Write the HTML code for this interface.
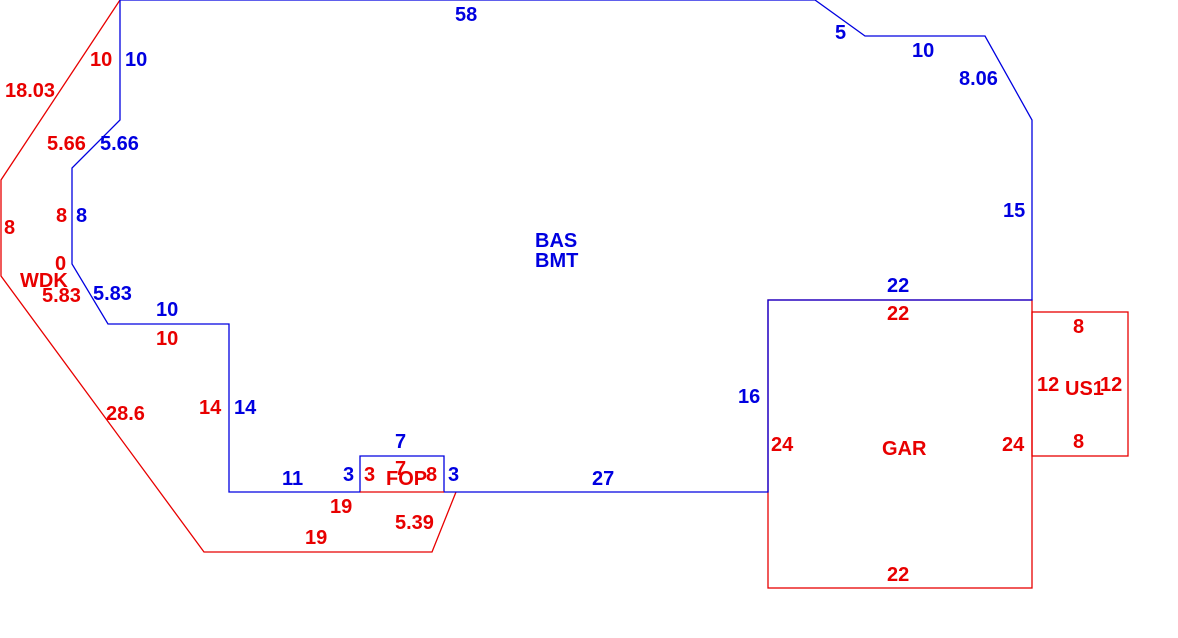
<!DOCTYPE html>
<html><head><meta charset="utf-8"><style>
html,body{margin:0;padding:0;background:#fff;width:1178px;height:638px;overflow:hidden}
text{font-family:"Liberation Sans",Arial,sans-serif;font-weight:bold;font-size:20px}
.b{fill:#0000e0}.r{fill:#e80000}
</style></head><body>
<svg width="1178" height="638" viewBox="0 0 1178 638">
<g fill="none" stroke-width="1.3">
<polyline stroke="#e80000" points="120,0 1,180 1,276 204,552 432,552 456,492"/>
<rect stroke="#e80000" x="768" y="300" width="264" height="288"/>
<rect stroke="#e80000" x="1032" y="312" width="96" height="144"/>
<polygon stroke="#0000e0" points="120,0 815,0 865,36 985,36 1032,120 1032,300 768,300 768,492 444,492 444,456 360,456 360,492 229,492 229,324 108,324 72,264 72,168 120,120"/>
<line stroke="#e80000" x1="360" y1="492" x2="444" y2="492"/>
</g>
<g class="b">
<text x="455" y="21">58</text>
<text x="835" y="39">5</text>
<text x="912" y="57">10</text>
<text x="959" y="85">8.06</text>
<text x="1003" y="217">15</text>
<text x="887" y="292">22</text>
<text x="535" y="247">BAS</text>
<text x="535" y="267">BMT</text>
<text x="738" y="403">16</text>
<text x="592" y="485">27</text>
<text x="395" y="448">7</text>
<text x="343" y="481">3</text>
<text x="448" y="481">3</text>
<text x="282" y="485">11</text>
<text x="234" y="414">14</text>
<text x="156" y="316">10</text>
<text x="93" y="300">5.83</text>
<text x="76" y="222">8</text>
<text x="100" y="150">5.66</text>
<text x="125" y="66">10</text>
</g>
<g class="r">
<text x="90" y="66">10</text>
<text x="5" y="97">18.03</text>
<text x="47" y="150">5.66</text>
<text x="56" y="222">8</text>
<text x="4" y="234">8</text>
<text x="55" y="270">0</text>
<text x="20" y="287">WDK</text>
<text x="42" y="302">5.83</text>
<text x="156" y="345">10</text>
<text x="199" y="414">14</text>
<text x="106" y="420">28.6</text>
<text x="330" y="513">19</text>
<text x="305" y="544">19</text>
<text x="395" y="529">5.39</text>
<text x="364" y="481">3</text>
<text x="395" y="475">7</text>
<text x="386" y="485">FOP</text>
<text x="426" y="481">8</text>
<text x="887" y="320">22</text>
<text x="771" y="451">24</text>
<text x="882" y="455">GAR</text>
<text x="1002" y="451">24</text>
<text x="887" y="581">22</text>
<text x="1073" y="333">8</text>
<text x="1037" y="391">12</text>
<text x="1065" y="395">US1</text>
<text x="1100" y="391">12</text>
<text x="1073" y="448">8</text>
</g>
</svg>
</body></html>
